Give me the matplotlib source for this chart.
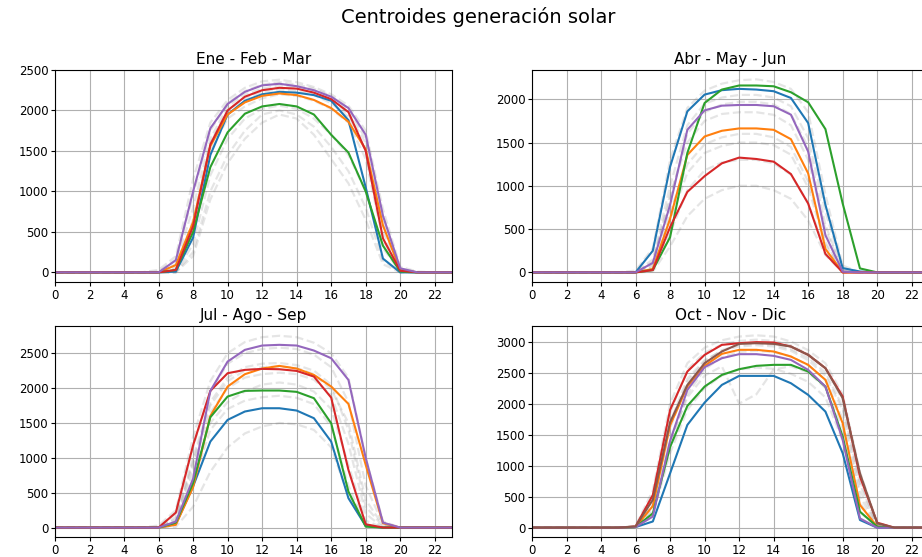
import numpy as np
import matplotlib
matplotlib.use("Agg")
import matplotlib.pyplot as plt

hours = list(range(24))

# --- Ene - Feb - Mar ---
efm_centroids = [
    [0, 0, 0, 0, 0, 0, 0, 10, 430, 1450, 1950, 2120, 2200, 2230, 2220, 2190, 2120, 1880, 1050, 170, 0, 0, 0, 0],
    [0, 0, 0, 0, 0, 0, 0, 90, 620, 1560, 1950, 2100, 2180, 2210, 2190, 2130, 2030, 1860, 1520, 580, 30, 0, 0, 0],
    [0, 0, 0, 0, 0, 0, 0, 30, 500, 1300, 1730, 1960, 2050, 2080, 2050, 1950, 1700, 1480, 1000, 330, 10, 0, 0, 0],
    [0, 0, 0, 0, 0, 0, 0, 30, 570, 1580, 2000, 2170, 2250, 2280, 2270, 2220, 2140, 1980, 1500, 420, 20, 0, 0, 0],
    [0, 0, 0, 0, 0, 0, 0, 150, 1000, 1780, 2080, 2230, 2310, 2330, 2300, 2250, 2170, 2030, 1700, 700, 50, 0, 0, 0],
]
efm_days = [
    [0, 0, 0, 0, 0, 0, 30, 200, 1150, 1850, 2130, 2280, 2360, 2380, 2350, 2290, 2200, 2060, 1750, 780, 70, 10, 0, 0],
    [0, 0, 0, 0, 0, 0, 0, 0, 250, 1000, 1450, 1750, 1950, 2000, 1950, 1800, 1550, 1250, 800, 150, 0, 0, 0, 0],
    [0, 0, 0, 0, 0, 0, 0, 40, 500, 1500, 1900, 2050, 2150, 2200, 2180, 2120, 2020, 1850, 1400, 400, 20, 0, 0, 0],
    [0, 0, 0, 0, 0, 0, 0, 100, 800, 1650, 2050, 2200, 2270, 2310, 2290, 2240, 2150, 1950, 1600, 600, 40, 0, 0, 0],
    [0, 0, 0, 0, 0, 0, 0, 0, 350, 1200, 1650, 1900, 2020, 2060, 2020, 1900, 1700, 1450, 1000, 300, 10, 0, 0, 0],
    [0, 0, 0, 0, 0, 0, 10, 160, 950, 1750, 2090, 2240, 2320, 2350, 2320, 2270, 2180, 2010, 1650, 680, 50, 0, 0, 0],
    [0, 0, 0, 0, 0, 0, 0, 60, 650, 1600, 2000, 2150, 2230, 2260, 2240, 2190, 2090, 1920, 1500, 500, 30, 0, 0, 0],
    [0, 0, 0, 0, 0, 0, 0, 0, 200, 900, 1350, 1650, 1850, 1950, 1900, 1700, 1400, 1100, 650, 100, 0, 0, 0, 0],
]

# --- Abr - May - Jun ---
amj_centroids = [
    [0, 0, 0, 0, 0, 0, 0, 250, 1220, 1860, 2054, 2105, 2120, 2112, 2093, 2015, 1725, 780, 50, 10, 0, 0, 0, 0],
    [0, 0, 0, 0, 0, 0, 0, 40, 620, 1356, 1570, 1636, 1663, 1663, 1647, 1539, 1143, 271, 0, 0, 0, 0, 0, 0],
    [0, 0, 0, 0, 0, 0, 0, 27, 407, 1380, 1957, 2112, 2159, 2159, 2150, 2081, 1965, 1655, 795, 46, 0, 0, 0, 0],
    [0, 0, 0, 0, 0, 0, 0, 27, 523, 930, 1112, 1260, 1326, 1310, 1279, 1136, 795, 213, 0, 0, 0, 0, 0, 0],
    [0, 0, 0, 0, 0, 0, 0, 110, 780, 1647, 1872, 1926, 1934, 1934, 1919, 1822, 1395, 430, 8, 0, 0, 0, 0, 0],
]
amj_days = [
    [0, 0, 0, 0, 0, 0, 20, 280, 1300, 1900, 2100, 2180, 2220, 2230, 2200, 2120, 1850, 900, 80, 0, 0, 0, 0, 0],
    [0, 0, 0, 0, 0, 0, 0, 100, 900, 1500, 1750, 1830, 1850, 1850, 1820, 1700, 1300, 500, 20, 0, 0, 0, 0, 0],
    [0, 0, 0, 0, 0, 0, 0, 80, 700, 1250, 1480, 1560, 1600, 1600, 1560, 1450, 1050, 350, 10, 0, 0, 0, 0, 0],
    [0, 0, 0, 0, 0, 0, 0, 10, 300, 650, 850, 950, 1000, 1000, 950, 850, 600, 200, 0, 0, 0, 0, 0, 0],
    [0, 0, 0, 0, 0, 0, 0, 150, 1000, 1700, 1950, 2020, 2050, 2050, 2020, 1920, 1550, 700, 40, 0, 0, 0, 0, 0],
    [0, 0, 0, 0, 0, 0, 0, 120, 850, 1600, 1850, 1940, 1970, 1970, 1940, 1830, 1450, 550, 20, 0, 0, 0, 0, 0],
    [0, 0, 0, 0, 0, 0, 0, 60, 600, 1150, 1380, 1460, 1500, 1500, 1470, 1360, 980, 320, 10, 0, 0, 0, 0, 0],
    [0, 0, 0, 0, 0, 0, 0, 40, 450, 950, 1180, 1270, 1300, 1300, 1260, 1130, 800, 250, 0, 0, 0, 0, 0, 0],
]

# --- Jul - Ago - Sep ---
jas_centroids = [
    [0, 0, 0, 0, 0, 0, 0, 50, 591, 1233, 1544, 1664, 1711, 1711, 1678, 1568, 1233, 421, 24, 0, 0, 0, 0, 0],
    [0, 0, 0, 0, 0, 0, 0, 40, 580, 1601, 2022, 2199, 2280, 2318, 2280, 2189, 2022, 1773, 900, 62, 0, 0, 0, 0],
    [0, 0, 0, 0, 0, 0, 0, 72, 640, 1582, 1879, 1960, 1965, 1965, 1946, 1855, 1496, 516, 14, 0, 0, 0, 0, 0],
    [0, 0, 0, 0, 0, 0, 0, 215, 1180, 1960, 2213, 2261, 2275, 2270, 2246, 2165, 1864, 827, 48, 0, 0, 0, 0, 0],
    [0, 0, 0, 0, 0, 0, 0, 86, 700, 1960, 2380, 2548, 2610, 2620, 2610, 2538, 2428, 2117, 1000, 72, 0, 0, 0, 0],
]
jas_days = [
    [0, 0, 0, 0, 0, 0, 30, 250, 1300, 2100, 2500, 2660, 2730, 2750, 2730, 2650, 2500, 2150, 1000, 90, 0, 0, 0, 0],
    [0, 0, 0, 0, 0, 0, 0, 150, 1000, 1800, 2150, 2300, 2350, 2360, 2330, 2250, 2050, 1400, 300, 20, 0, 0, 0, 0],
    [0, 0, 0, 0, 0, 0, 0, 80, 800, 1500, 1800, 1950, 2050, 2080, 2050, 1950, 1700, 900, 100, 0, 0, 0, 0, 0],
    [0, 0, 0, 0, 0, 0, 0, 10, 300, 800, 1150, 1350, 1450, 1500, 1480, 1400, 1150, 450, 20, 0, 0, 0, 0, 0],
    [0, 0, 0, 0, 0, 0, 0, 100, 900, 1650, 2000, 2150, 2200, 2220, 2200, 2120, 1900, 1200, 200, 0, 0, 0, 0, 0],
    [0, 0, 0, 0, 0, 0, 10, 200, 1150, 1950, 2350, 2500, 2560, 2580, 2560, 2480, 2300, 1800, 600, 50, 0, 0, 0, 0],
    [0, 0, 0, 0, 0, 0, 0, 60, 650, 1400, 1700, 1820, 1870, 1890, 1860, 1770, 1450, 600, 40, 0, 0, 0, 0, 0],
    [0, 0, 0, 0, 0, 0, 0, 120, 950, 1750, 2100, 2250, 2300, 2310, 2290, 2200, 1980, 1500, 400, 30, 0, 0, 0, 0],
]

# --- Oct - Nov - Dic ---
ond_centroids = [
    [0, 0, 0, 0, 0, 0, 10, 100, 876, 1656, 2016, 2301, 2446, 2446, 2446, 2328, 2140, 1871, 1200, 124, 0, 0, 0, 0],
    [0, 0, 0, 0, 0, 0, 10, 350, 1650, 2274, 2608, 2801, 2866, 2866, 2839, 2758, 2624, 2382, 1683, 366, 16, 0, 0, 0],
    [0, 0, 0, 0, 0, 0, 10, 231, 1300, 1962, 2274, 2462, 2554, 2608, 2624, 2624, 2516, 2274, 1468, 258, 16, 0, 0, 0],
    [0, 0, 0, 0, 0, 0, 20, 527, 1898, 2516, 2785, 2946, 2973, 2990, 2984, 2919, 2785, 2570, 2113, 823, 81, 0, 0, 0],
    [0, 0, 0, 0, 0, 0, 10, 180, 1400, 2220, 2586, 2731, 2796, 2796, 2769, 2704, 2543, 2274, 1414, 150, 0, 0, 0, 0],
    [0, 0, 0, 0, 0, 0, 20, 450, 1700, 2300, 2651, 2839, 2962, 2973, 2962, 2919, 2785, 2570, 2086, 876, 70, 0, 0, 0],
]
ond_days = [
    [0, 0, 0, 0, 0, 0, 30, 600, 2000, 2650, 2900, 3020, 3080, 3100, 3080, 3000, 2860, 2650, 2150, 900, 80, 0, 0, 0],
    [0, 0, 0, 0, 0, 0, 10, 400, 1700, 2400, 2700, 2850, 2920, 2940, 2920, 2850, 2700, 2450, 1900, 600, 40, 0, 0, 0],
    [0, 0, 0, 0, 0, 0, 0, 300, 1400, 2100, 2450, 2600, 2000, 2150, 2550, 2600, 2500, 2250, 1600, 400, 20, 0, 0, 0],
    [0, 0, 0, 0, 0, 0, 0, 200, 1200, 1900, 2250, 2450, 2550, 2580, 2560, 2480, 2350, 2100, 1400, 250, 10, 0, 0, 0],
    [0, 0, 0, 0, 0, 0, 20, 500, 1850, 2550, 2820, 2950, 3010, 3030, 3010, 2940, 2800, 2580, 2050, 750, 60, 0, 0, 0],
    [0, 0, 0, 0, 0, 0, 10, 350, 1600, 2350, 2680, 2860, 2950, 2970, 2950, 2880, 2740, 2500, 1950, 700, 50, 0, 0, 0],
    [0, 0, 0, 0, 0, 0, 10, 250, 1350, 2150, 2550, 2750, 2830, 2850, 2830, 2760, 2620, 2380, 1750, 500, 30, 0, 0, 0],
]

titles = ["Ene - Feb - Mar", "Abr - May - Jun", "Jul - Ago - Sep", "Oct - Nov - Dic"]
centroids = [efm_centroids, amj_centroids, jas_centroids, ond_centroids]
days = [efm_days, amj_days, jas_days, ond_days]
ylims = [(-119, 2500), (-111, 2338), (-135, 2890), (-150, 3250)]

fig = plt.figure(figsize=(9.22, 5.57), dpi=100)

# axes laid out in pixels of the original (right column runs past the edge)
W, H = 922, 557
boxes = [(55, 70, 397, 212), (532, 70, 397, 212),
         (55, 326, 397, 211), (532, 326, 397, 211)]

for i in range(4):
    x0, y0, w, h = boxes[i]
    ax = fig.add_axes([x0 / W, 1 - (y0 + h) / H, w / W, h / H])
    for d in days[i]:
        ax.plot(hours, d, color="grey", ls="--", lw=1.6, alpha=0.2)
    for c in centroids[i]:
        ax.plot(hours, c, lw=1.5)
    ax.set_title(titles[i], fontsize=11, pad=4)
    ax.set_xticks(range(0, 24, 2))
    ax.set_xlim(0, 23)
    ax.set_ylim(*ylims[i])
    ax.tick_params(labelsize=8.5, length=3, pad=1.8)
    ax.grid(True)

fig.suptitle("Centroides generación solar", x=478 / W, y=0.988, fontsize=14)
fig.savefig("out.png", dpi=100)
